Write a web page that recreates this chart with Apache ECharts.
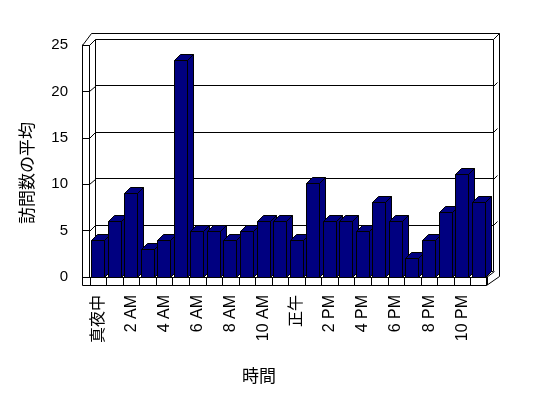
<!DOCTYPE html>
<html><head><meta charset="utf-8">
<script src="https://cdn.jsdelivr.net/npm/echarts@6/dist/echarts.min.js"></script>
<style>html,body{margin:0;padding:0;background:#fff}#c{width:548px;height:398px}</style>
</head><body><div id="c"></div>
<script>
const hours = ['真夜中','1 AM','2 AM','3 AM','4 AM','5 AM','6 AM','7 AM','8 AM','9 AM','10 AM','11 AM',
  '正午','1 PM','2 PM','3 PM','4 PM','5 PM','6 PM','7 PM','8 PM','9 PM','10 PM','11 PM'];
const visits = [4,6,9,3,4,23.4,5,5,4,5,6,6,4,10.1,6,6,5,8.1,6,2,4,7,11.1,8.1];
const yTicks = [0,5,10,15,20,25];
const yTitle = '訪問数の平均';
const xTitle = '時間';

const LAT = "'Liberation Sans','Noto Sans CJK JP',sans-serif";
const JP = "'Noto Sans CJK JP',sans-serif";
const NAVY = '#000080';
const DEPTH = 6;

const chart = echarts.init(document.getElementById('c'), null, {renderer:'canvas'});
const option = {
  animation:false,
  backgroundColor:'#fff',
  grid:[
    {left:96, top:39, width:397, height:232.5},
    {left:90, top:45, width:397, height:232}
  ],
  xAxis:[
    {gridIndex:0, type:'category', data:hours, show:false},
    {gridIndex:1, type:'category', data:hours,
     axisLine:{show:true, lineStyle:{color:'#000', width:1}},
     axisTick:{show:true, interval:0, length:8, lineStyle:{color:'#000'}},
     axisLabel:{interval:1, rotate:90, margin:18, fontSize:16, color:'#000', fontFamily:LAT},
     splitLine:{show:false}}
  ],
  yAxis:[
    {gridIndex:0, type:'value', min:yTicks[0], max:yTicks[yTicks.length-1], interval:5,
     axisLabel:{show:false}, axisLine:{show:false}, axisTick:{show:false},
     splitLine:{show:true, lineStyle:{color:'#000', width:1}}},
    {gridIndex:1, type:'value', min:yTicks[0], max:yTicks[yTicks.length-1], interval:5, offset:8,
     axisLine:{show:true, lineStyle:{color:'#000'}},
     axisTick:{show:true, inside:true, length:8, lineStyle:{color:'#000'}},
     axisLabel:{margin:14, fontSize:15, color:'#000', fontFamily:LAT},
     splitLine:{show:false}}
  ],
  series:[{
    type:'custom', xAxisIndex:1, yAxisIndex:1, z:3, clip:false,
    data: visits.map((v,i)=>[i,v]),
    renderItem:function(params, api){
      const i = api.value(0), v = api.value(1);
      const top = api.coord([i, v]);
      const base = api.coord([i, 0]);
      const bw = api.size([1,0])[0];
      const x0 = Math.round(top[0] - bw*0.43) + 0.5;
      const w = Math.round(bw*0.78);
      const ty = Math.round(top[1]) + 0.5;
      const by = Math.round(base[1]) + 0.5;
      const d = DEPTH;
      const st = {fill:NAVY, stroke:'#000', lineWidth:1};
      return {type:'group', children:[
        {type:'polygon', shape:{points:[[x0+w,ty],[x0+w+d,ty-d],[x0+w+d,by-d],[x0+w,by]]}, style:st},
        {type:'polygon', shape:{points:[[x0,ty],[x0+d,ty-d],[x0+w+d,ty-d],[x0+w,ty]]}, style:st},
        {type:'rect', shape:{x:x0, y:ty, width:w, height:by-ty}, style:st}
      ]};
    }
  }]
};
chart.setOption(option);

// frame (walls / floor) derived from the two grids
const b0 = chart.convertToPixel({gridIndex:0}, [0, 0]);
const fb = chart.convertToPixel({xAxisIndex:1, yAxisIndex:1}, [0, 0]);
const g0 = chart.getModel().getComponent('grid',0).coordinateSystem.getRect();
const g1 = chart.getModel().getComponent('grid',1).coordinateSystem.getRect();
const L = g1.x - 8 + 0.5;          // front outer left
const Li = g1.x - 0.5;             // front inner left
const Ft = g1.y + 0.5;             // front top
const Fb = g1.y + g1.height + 0.5; // floor front top
const Fbb = Fb + 8;                // floor front bottom
const Fr = g1.x + g1.width - 0.5;  // floor right
const Bl = g0.x - 0.5, Bt = g0.y + 0.5, Br = g0.x + g0.width + 0.5, Bb = g0.y + g0.height;
const Bot = Bt - 6, Bor = Br + 6;
const ln = (a,b)=>({type:'line', z:1, shape:{x1:a[0],y1:a[1],x2:b[0],y2:b[1]}, style:{stroke:'#000', lineWidth:1}});
const els = [
  ln([L,Ft],[L,Fbb]), ln([Li,Ft],[Li,Fb]), ln([L,Ft],[Li,Ft]),
  ln([L,Ft],[Bl-4,Bot]), ln([Li,Ft],[Bl,Bt]),
  ln([Bl-4,Bot],[Bor,Bot]), ln([Bl,Bt],[Bl,Bb]),
  ln([Br,Bt],[Br,Bb]), ln([Bor,Bot],[Bor,Fb-1]), ln([Br,Bt],[Bor,Bot]),
  ln([L,Fbb],[Fr,Fbb]), ln([Fr,Fb],[Fr,Fbb]),
  ln([Fr,Fbb],[Bor,Fb-1]), ln([Fr,Fb],[Br+1,Bb])
];
yTicks.forEach(v=>{
  const fy = Math.round(chart.convertToPixel({yAxisIndex:1}, v)) + 0.5;
  const by = Math.round(chart.convertToPixel({yAxisIndex:0}, v)) + 0.5;
  if (v > 0) {
    els.push(ln([Li,fy],[Bl,by]));
    els.push(ln([Br,by],[Br+4,by-4]));
  }
});
els.push({type:'text', z:5, x:27, y:173, rotation:Math.PI/2,
  style:{text:yTitle, font:'17px '+JP, fill:'#000', align:'center', verticalAlign:'middle'}});
els.push({type:'text', z:5, x:259, y:376,
  style:{text:xTitle, font:'17px '+JP, fill:'#000', align:'center', verticalAlign:'middle'}});
chart.setOption({graphic:{elements:els}});
</script>
</body></html>
